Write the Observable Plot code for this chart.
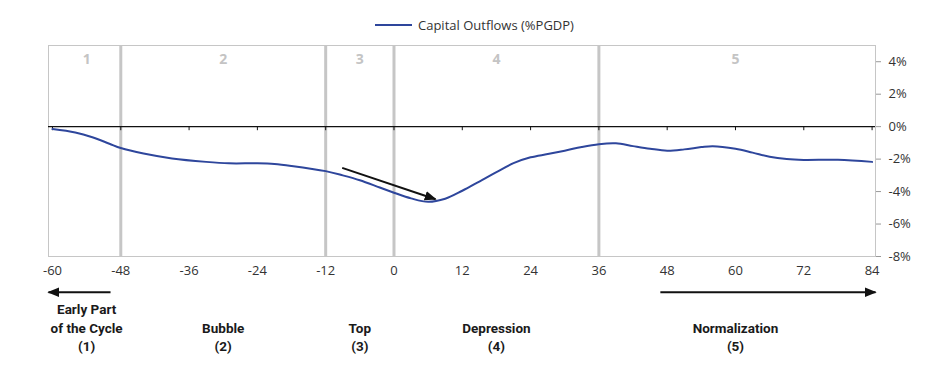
<!DOCTYPE html>
<html><head><meta charset="utf-8">
<script src="https://cdn.jsdelivr.net/npm/d3@7"></script>
<script src="https://cdn.jsdelivr.net/npm/@observablehq/plot@0.6"></script>
<style>
body{margin:0;background:#fff;font-family:"Open Sans",sans-serif;}
#legend{position:relative;height:40px;width:942px;}
#legend .sw{position:absolute;left:375px;top:24px;width:37px;height:2px;background:#2e469c;}
#legend .lb{position:absolute;left:418px;top:15px;font-size:13px;line-height:20px;color:#333;white-space:nowrap;}
</style></head><body>
<div id="legend"><span class="sw"></span><span class="lb">Capital Outflows (%PGDP)</span></div>
<div id="chart"></div>
<script>
const months = [-60,-56,-53,-50,-48,-44,-39,-33,-29,-24,-21,-18,-12,-9,-6,-2.5,0,3,6,9,12,15,18,21,24,27,30,33,36,39,42,45,48,51,54,56,60,63,66,69,72,78,84];
const outflows = [-0.15,-0.36,-0.65,-1.05,-1.32,-1.66,-1.96,-2.17,-2.26,-2.26,-2.3,-2.42,-2.74,-3.0,-3.3,-3.75,-4.07,-4.42,-4.63,-4.44,-3.95,-3.38,-2.8,-2.25,-1.89,-1.69,-1.48,-1.25,-1.08,-1.03,-1.2,-1.36,-1.48,-1.4,-1.26,-1.2,-1.36,-1.6,-1.86,-2.0,-2.05,-2.04,-2.17];
const xTicks = [-60,-48,-36,-24,-12,0,12,24,36,48,60,72,84];
const yTicks = [-8,-6,-4,-2,0,2,4];
const phaseBounds = [-48,-12,0,36];
const phaseMid = [-54,-30,-6,18,60];
const phaseNum = ["1","2","3","4","5"];
const phaseNames = ["Early Part\nof the Cycle\n(1)","Bubble\n(2)","Top\n(3)","Depression\n(4)","Normalization\n(5)"];
const phaseNumY = 4.15;
const phaseNameY = -13.85;
// arrows: start and end points
const arrowX1 = [-9.1, -49.8, 46.8];
const arrowY1 = [-2.54, -10.2, -10.2];
const arrowX2 = [7.3, -60.7, 84.6];
const arrowY2 = [-4.47, -10.2, -10.2];

const series = months.map((m,i)=>({m, v: outflows[i]}));
const arrows = arrowX1.map((x,i)=>({x1:x, y1:arrowY1[i], x2:arrowX2[i], y2:arrowY2[i]}));
const phases = phaseMid.map((x,i)=>({x, n: phaseNum[i], name: phaseNames[i]}));

const plot = Plot.plot({
  width: 942, height: 347,
  marginLeft: 48, marginRight: 67, marginTop: 5, marginBottom: 131,
  x: {domain: [-60.7, 84.6]},
  y: {domain: [-8, 5]},
  style: {fontFamily: '"Open Sans", sans-serif', fontSize: "13px", color: "#333", overflow: "visible", background: "#fff"},
  marks: [
    Plot.ruleX(phaseBounds, {stroke: "#c6c6c6", strokeWidth: 3}),
    Plot.frame({stroke: "#c6c6c6"}),
    Plot.ruleY([0], {stroke: "#111", strokeWidth: 1.2}),
    Plot.ruleX(xTicks, {y1: 0, y2: -0.25, stroke: "#111"}),
    Plot.axisX({ticks: xTicks, tickSize: 0, tickPadding: 9, label: null, fontSize: 13, tickFormat: d => String(d)}),
    Plot.axisY({anchor: "right", ticks: yTicks, tickFormat: d => String(d) + "%", tickSize: 5, tickPadding: 8, label: null, stroke: "#999", fontSize: 13}),
    Plot.line(series, {x: "m", y: "v", stroke: "#2e469c", strokeWidth: 2, curve: "catmull-rom"}),
    Plot.link(arrows, {x1: "x1", y1: "y1", x2: "x2", y2: "y2", stroke: "#111", strokeWidth: 2}),
    Plot.text(phases, {x: "x", y: () => phaseNumY, text: "n", fill: "#c4c4c4", fontWeight: "bold", fontSize: 14}),
    Plot.text(phases, {x: "x", y: () => phaseNameY, text: "name", fill: "#1a1a1a", fontWeight: "bold", fontSize: 13.5, fontFamily: "Roboto, sans-serif", lineAnchor: "bottom", lineHeight: 1.38})
  ]
});
const svg = d3.select(plot);
svg.append("defs").append("marker")
  .attr("id", "ah").attr("viewBox", "0 -5 10 10").attr("refX", 9).attr("refY", 0)
  .attr("markerWidth", 6).attr("markerHeight", 6).attr("orient", "auto").attr("markerUnits", "strokeWidth")
  .append("path").attr("d", "M0,-4L10,0L0,4Z").attr("fill", "#111");
svg.selectAll('g[aria-label="link"] path').attr("marker-end", "url(#ah)");
document.getElementById("chart").appendChild(plot);
</script>
</body></html>
